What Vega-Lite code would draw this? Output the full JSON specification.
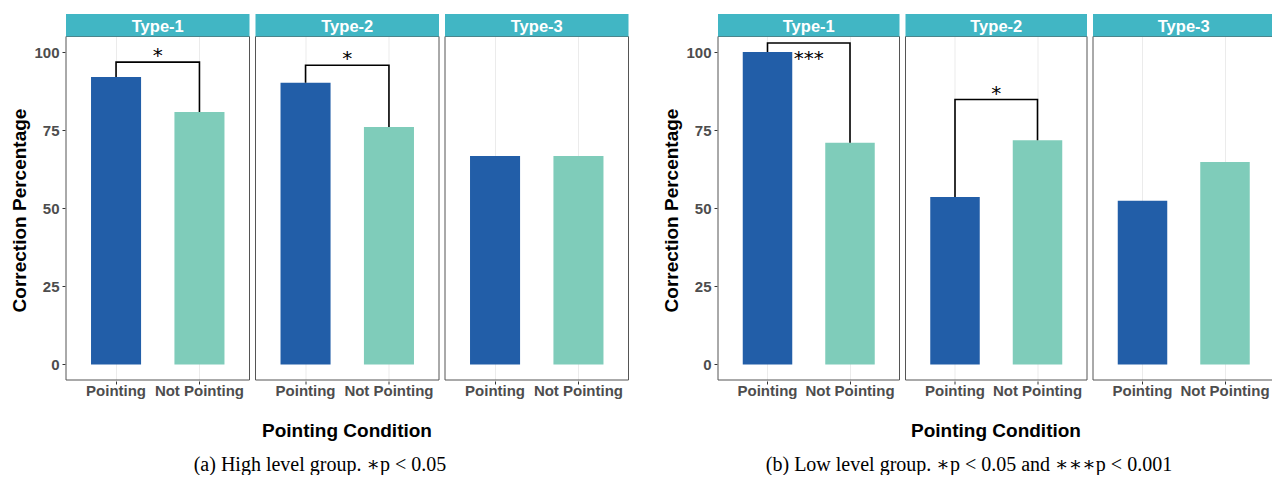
{
  "$schema": "https://vega.github.io/schema/vega-lite/v6.json",
  "padding": {"left": 10, "top": 14, "right": 0, "bottom": 0},
  "background": "white",
  "config": {"view": {"stroke": null}, "font": "Liberation Sans"},
  "datasets": {
    "high": [
      {"type": "Type-1", "cond": "Pointing", "kind": "bar", "value": 92.0},
      {"type": "Type-1", "cond": "Not Pointing", "kind": "bar", "value": 80.8},
      {"type": "Type-2", "cond": "Pointing", "kind": "bar", "value": 90.2},
      {"type": "Type-2", "cond": "Not Pointing", "kind": "bar", "value": 76.0},
      {"type": "Type-3", "cond": "Pointing", "kind": "bar", "value": 66.7},
      {"type": "Type-3", "cond": "Not Pointing", "kind": "bar", "value": 66.7},
      {"type": "Type-1", "cond": "Pointing", "kind": "bracket", "value": 92.0, "seq": 1},
      {"type": "Type-1", "cond": "Pointing", "kind": "bracket", "value": 96.8, "seq": 2},
      {"type": "Type-1", "cond": "Not Pointing", "kind": "bracket", "value": 96.8, "seq": 3},
      {"type": "Type-1", "cond": "Not Pointing", "kind": "bracket", "value": 80.8, "seq": 4},
      {"type": "Type-2", "cond": "Pointing", "kind": "bracket", "value": 90.2, "seq": 1},
      {"type": "Type-2", "cond": "Pointing", "kind": "bracket", "value": 95.8, "seq": 2},
      {"type": "Type-2", "cond": "Not Pointing", "kind": "bracket", "value": 95.8, "seq": 3},
      {"type": "Type-2", "cond": "Not Pointing", "kind": "bracket", "value": 76.0, "seq": 4},
      {"type": "Type-1", "cond": "Pointing", "kind": "star", "value": 96.8, "label": "*"},
      {"type": "Type-2", "cond": "Pointing", "kind": "star", "value": 95.8, "label": "*"}
    ],
    "low": [
      {"type": "Type-1", "cond": "Pointing", "kind": "bar", "value": 100.0},
      {"type": "Type-1", "cond": "Not Pointing", "kind": "bar", "value": 71.0},
      {"type": "Type-2", "cond": "Pointing", "kind": "bar", "value": 53.6},
      {"type": "Type-2", "cond": "Not Pointing", "kind": "bar", "value": 71.8},
      {"type": "Type-3", "cond": "Pointing", "kind": "bar", "value": 52.4},
      {"type": "Type-3", "cond": "Not Pointing", "kind": "bar", "value": 64.8},
      {"type": "Type-1", "cond": "Pointing", "kind": "bracket", "value": 100.0, "seq": 1},
      {"type": "Type-1", "cond": "Pointing", "kind": "bracket", "value": 102.9, "seq": 2},
      {"type": "Type-1", "cond": "Not Pointing", "kind": "bracket", "value": 102.9, "seq": 3},
      {"type": "Type-1", "cond": "Not Pointing", "kind": "bracket", "value": 71.0, "seq": 4},
      {"type": "Type-2", "cond": "Pointing", "kind": "bracket", "value": 53.6, "seq": 1},
      {"type": "Type-2", "cond": "Pointing", "kind": "bracket", "value": 84.8, "seq": 2},
      {"type": "Type-2", "cond": "Not Pointing", "kind": "bracket", "value": 84.8, "seq": 3},
      {"type": "Type-2", "cond": "Not Pointing", "kind": "bracket", "value": 71.8, "seq": 4},
      {"type": "Type-1", "cond": "Pointing", "kind": "star", "value": 96.0, "label": "***"},
      {"type": "Type-2", "cond": "Pointing", "kind": "star", "value": 84.8, "label": "*"}
    ]
  },
  "spacing": 33,
  "hconcat": [
    {
      "data": {"name": "high"},
      "title": {"text": "(a) High level group. ∗p < 0.05", "orient": "bottom", "anchor": "middle", "font": "Liberation Serif, DejaVu Serif, DejaVu Sans", "fontSize": 20, "fontWeight": "normal", "color": "black", "offset": 14},
      "facet": {"column": {"field": "type", "type": "nominal", "title": "Pointing Condition", "header": {"labels": false, "titleOrient": "bottom", "titleFontSize": 19, "titleFontWeight": "bold", "titleColor": "black", "titleFont": "Liberation Sans", "titlePadding": 14}}},
      "spacing": 4.5,
      "spec": {
        "width": 183.5,
        "height": 366,
        "layer": [
          {
            "transform": [{"filter": "datum.kind === 'bar' && datum.cond === 'Pointing'"}],
            "mark": {"type": "rect", "filled": false, "stroke": "#555555", "strokeWidth": 1},
            "encoding": {
              "y": {"datum": -5, "type": "quantitative", "scale": {"domain": [-5, 112.2], "nice": false}, "title": "Correction Percentage",
                "axis": {"values": [0, 12.5, 25, 37.5, 50, 62.5, 75, 87.5, 100], "labelExpr": "datum.value % 25 === 0 ? datum.label : ''", "gridColor": {"condition": {"test": "datum.value % 25 === 0", "value": "#ebebeb"}, "value": "#f3f3f3"}, "tickOpacity": {"condition": {"test": "datum.value % 25 === 0", "value": 1}, "value": 0}, "tickColor": "#333333", "tickSize": 3, "domain": false, "labelFontSize": 15, "labelFontWeight": "bold", "labelColor": "#4d4d4d", "labelPadding": 3, "titleFontSize": 19, "titleFontWeight": "bold", "titleColor": "black", "titlePadding": 4, "titleY": 196}},
              "y2": {"datum": 105}
            }
          },
          {
            "transform": [{"filter": "datum.kind === 'bar'"}],
            "mark": {"type": "bar"},
            "encoding": {
              "x": {"field": "cond", "type": "nominal", "title": null, "scale": {"domain": ["Pointing", "Not Pointing"], "paddingInner": 0.4, "paddingOuter": 0.3},
                "axis": {"grid": true, "gridColor": "#ebebeb", "bandPosition": 0.5, "tickColor": "#333333", "tickSize": 3, "domain": false, "labelFontSize": 15, "labelFontWeight": "bold", "labelColor": "#4d4d4d", "labelPadding": -1, "labelAngle": 0}},
              "y": {"field": "value", "type": "quantitative", "title": "Correction Percentage"},
              "color": {"field": "cond", "type": "nominal", "scale": {"domain": ["Pointing", "Not Pointing"], "range": ["#225ea8", "#7fccba"]}, "legend": null}
            }
          },
          {
            "transform": [{"filter": "datum.kind === 'bracket'"}],
            "mark": {"type": "line", "color": "black", "strokeWidth": 1.6},
            "encoding": {
              "x": {"field": "cond", "type": "nominal", "title": null},
              "y": {"field": "value", "type": "quantitative", "title": "Correction Percentage"},
              "order": {"field": "seq", "type": "quantitative"}
            }
          },
          {
            "transform": [{"filter": "datum.kind === 'star'"}],
            "mark": {"type": "text", "font": "DejaVu Sans", "fontSize": 20, "baseline": "alphabetic", "color": "black"},
            "encoding": {
              "x": {"field": "cond", "type": "nominal", "title": null, "bandPosition": 1.3333},
              "y": {"field": "value", "type": "quantitative", "title": "Correction Percentage"},
              "text": {"field": "label"}
            }
          },
          {
            "transform": [{"filter": "datum.kind === 'bar' && datum.cond === 'Pointing'"}],
            "mark": {"type": "rect", "color": "#41b6c4"},
            "encoding": {
              "y": {"datum": 105, "type": "quantitative"},
              "y2": {"datum": 112.2}
            }
          },
          {
            "transform": [{"filter": "datum.kind === 'bar' && datum.cond === 'Pointing'"}],
            "mark": {"type": "text", "color": "white", "fontSize": 16.5, "fontWeight": "bold", "baseline": "alphabetic", "font": "Liberation Sans"},
            "encoding": {
              "y": {"datum": 106.3, "type": "quantitative"},
              "text": {"field": "type"}
            }
          }
        ]
      }
    },
    {
      "data": {"name": "low"},
      "title": {"text": "(b) Low level group. ∗p < 0.05 and ∗∗∗p < 0.001", "orient": "bottom", "anchor": "middle", "font": "Liberation Serif, DejaVu Serif, DejaVu Sans", "fontSize": 20, "fontWeight": "normal", "color": "black", "offset": 14},
      "facet": {"column": {"field": "type", "type": "nominal", "title": "Pointing Condition", "header": {"labels": false, "titleOrient": "bottom", "titleFontSize": 19, "titleFontWeight": "bold", "titleColor": "black", "titleFont": "Liberation Sans", "titlePadding": 14}}},
      "spacing": 4.5,
      "spec": {
        "width": 181.5,
        "height": 366,
        "layer": [
          {
            "transform": [{"filter": "datum.kind === 'bar' && datum.cond === 'Pointing'"}],
            "mark": {"type": "rect", "filled": false, "stroke": "#555555", "strokeWidth": 1},
            "encoding": {
              "y": {"datum": -5, "type": "quantitative", "scale": {"domain": [-5, 112.2], "nice": false}, "title": "Correction Percentage",
                "axis": {"values": [0, 12.5, 25, 37.5, 50, 62.5, 75, 87.5, 100], "labelExpr": "datum.value % 25 === 0 ? datum.label : ''", "gridColor": {"condition": {"test": "datum.value % 25 === 0", "value": "#ebebeb"}, "value": "#f3f3f3"}, "tickOpacity": {"condition": {"test": "datum.value % 25 === 0", "value": 1}, "value": 0}, "tickColor": "#333333", "tickSize": 3, "domain": false, "labelFontSize": 15, "labelFontWeight": "bold", "labelColor": "#4d4d4d", "labelPadding": 3, "titleFontSize": 19, "titleFontWeight": "bold", "titleColor": "black", "titlePadding": 4, "titleY": 196}},
              "y2": {"datum": 105}
            }
          },
          {
            "transform": [{"filter": "datum.kind === 'bar'"}],
            "mark": {"type": "bar"},
            "encoding": {
              "x": {"field": "cond", "type": "nominal", "title": null, "scale": {"domain": ["Pointing", "Not Pointing"], "paddingInner": 0.4, "paddingOuter": 0.3},
                "axis": {"grid": true, "gridColor": "#ebebeb", "bandPosition": 0.5, "tickColor": "#333333", "tickSize": 3, "domain": false, "labelFontSize": 15, "labelFontWeight": "bold", "labelColor": "#4d4d4d", "labelPadding": -1, "labelAngle": 0}},
              "y": {"field": "value", "type": "quantitative", "title": "Correction Percentage"},
              "color": {"field": "cond", "type": "nominal", "scale": {"domain": ["Pointing", "Not Pointing"], "range": ["#225ea8", "#7fccba"]}, "legend": null}
            }
          },
          {
            "transform": [{"filter": "datum.kind === 'bracket'"}],
            "mark": {"type": "line", "color": "black", "strokeWidth": 1.6},
            "encoding": {
              "x": {"field": "cond", "type": "nominal", "title": null},
              "y": {"field": "value", "type": "quantitative", "title": "Correction Percentage"},
              "order": {"field": "seq", "type": "quantitative"}
            }
          },
          {
            "transform": [{"filter": "datum.kind === 'star'"}],
            "mark": {"type": "text", "font": "DejaVu Sans", "fontSize": 20, "baseline": "alphabetic", "color": "black"},
            "encoding": {
              "x": {"field": "cond", "type": "nominal", "title": null, "bandPosition": 1.3333},
              "y": {"field": "value", "type": "quantitative", "title": "Correction Percentage"},
              "text": {"field": "label"}
            }
          },
          {
            "transform": [{"filter": "datum.kind === 'bar' && datum.cond === 'Pointing'"}],
            "mark": {"type": "rect", "color": "#41b6c4"},
            "encoding": {
              "y": {"datum": 105, "type": "quantitative"},
              "y2": {"datum": 112.2}
            }
          },
          {
            "transform": [{"filter": "datum.kind === 'bar' && datum.cond === 'Pointing'"}],
            "mark": {"type": "text", "color": "white", "fontSize": 16.5, "fontWeight": "bold", "baseline": "alphabetic", "font": "Liberation Sans"},
            "encoding": {
              "y": {"datum": 106.3, "type": "quantitative"},
              "text": {"field": "type"}
            }
          }
        ]
      }
    }
  ]
}
